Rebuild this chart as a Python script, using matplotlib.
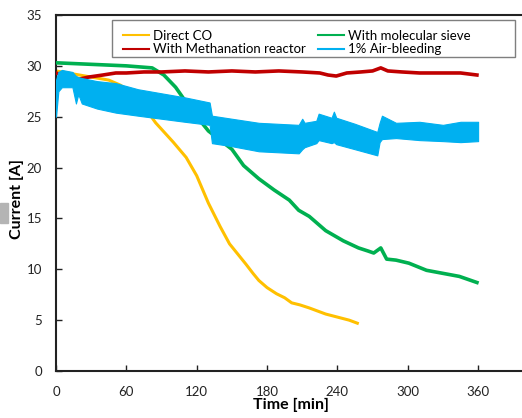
import numpy as np
import matplotlib.pyplot as plt
from matplotlib.lines import Line2D
from matplotlib.patches import Rectangle

plt.rcParams['font.family'] = ['Lato', 'DejaVu Sans']

# Direct CO
t_co = [0, 10, 20, 30, 45, 55, 65, 75, 85, 100, 111, 120, 130, 140, 148, 155, 162, 168, 173,
        180, 188, 195, 201, 208, 216, 223, 230, 240, 250, 257]
i_co = [29.5, 29.3, 29.1, 28.9, 28.6, 28.1, 27.3, 26.0, 24.4, 22.5, 21.0, 19.2, 16.5, 14.2, 12.5,
        11.5, 10.5, 9.6, 8.9, 8.2, 7.6, 7.2, 6.7, 6.5, 6.2, 5.9, 5.6, 5.3, 5.0, 4.7]

# With Methanation reactor
t_me = [0, 5, 12, 20, 28, 40, 51, 60, 75, 90, 110, 130, 150, 170, 190, 210, 225, 232, 239, 248,
        260, 270, 277, 283, 295, 310, 330, 345, 359]
i_me = [29.3, 29.1, 28.9, 28.7, 28.9, 29.1, 29.3, 29.3, 29.4, 29.4, 29.5, 29.4, 29.5, 29.4, 29.5,
        29.4, 29.3, 29.1, 29.0, 29.3, 29.4, 29.5, 29.8, 29.5, 29.4, 29.3, 29.3, 29.3, 29.1]

# With molecular sieve
t_ms = [0, 20, 40, 60, 82, 92, 102, 116, 130, 140, 150, 160, 173, 186, 199, 207, 216, 230, 245,
        258, 266, 271, 277, 282, 290, 301, 316, 330, 344, 359]
i_ms = [30.3, 30.2, 30.1, 30.0, 29.8, 29.1, 27.9, 25.6, 23.6, 22.7, 21.8, 20.2, 18.9, 17.8, 16.8,
        15.8, 15.2, 13.8, 12.8, 12.1, 11.8, 11.6, 12.1, 11.0, 10.9, 10.6, 9.9, 9.6, 9.3, 8.7]

# 1% Air-bleeding (noisy band: upper / lower envelope)
t_ab = [0, 2, 5, 14, 17, 19, 22, 35, 51, 70, 90, 110, 131, 133, 150, 173, 190, 207, 210, 212,
        222, 224, 235, 237, 239, 255, 274, 276, 278, 290, 310, 330, 345, 360]
ab_hi = [28.6, 29.4, 29.6, 29.4, 29.0, 28.9, 28.8, 28.5, 28.3, 27.7, 27.3, 26.9, 26.4, 25.1, 24.8,
         24.4, 24.3, 24.2, 24.8, 24.4, 24.6, 25.3, 24.9, 25.5, 24.9, 24.3, 23.5, 24.4, 25.1, 24.4,
         24.5, 24.2, 24.5, 24.5]
ab_lo = [25.0, 27.5, 27.9, 27.9, 26.3, 27.2, 26.3, 25.8, 25.4, 25.1, 24.8, 24.5, 24.2, 22.4, 22.1,
         21.6, 21.5, 21.4, 21.8, 22.0, 22.4, 22.7, 22.4, 22.5, 22.3, 21.8, 21.2, 22.5, 22.8, 22.9,
         22.7, 22.6, 22.5, 22.6]

c_co = '#FFC000'
c_me = '#C00000'
c_ms = '#00B050'
c_ab = '#00B0F0'

W, H = 522, 418
fig = plt.figure(figsize=(W / 100, H / 100), dpi=100)
ax = fig.add_axes([56 / W, 1 - 371 / H, 469 / W, 356 / H])

ax.plot(t_co, i_co, color=c_co, lw=2.2, zorder=2)
ax.plot(t_ms, i_ms, color=c_ms, lw=2.6, zorder=3)
ax.plot(t_me, i_me, color=c_me, lw=2.6, zorder=3)
ax.fill_between(t_ab, ab_lo, ab_hi, color=c_ab, lw=0.8, edgecolor=c_ab, zorder=4)

ax.set_xlim(0, 400)
ax.set_ylim(0, 35)
ax.set_xticks([0, 60, 120, 180, 240, 300, 360])
ax.set_yticks([0, 5, 10, 15, 20, 25, 30, 35])
ax.tick_params(direction='in', length=4, width=1, labelsize=9.5, colors='#222222')
ax.tick_params(axis='x', pad=11)
ax.tick_params(axis='y', pad=10)
for s in ['left', 'bottom', 'top']:
    ax.spines[s].set_linewidth(1.5)
    ax.spines[s].set_color('#222222')
ax.spines['right'].set_visible(False)

ax.set_xlabel('Time [min]', fontsize=11.5, fontweight='bold')
ax.xaxis.set_label_coords((291 - 56) / 469, (371 - 398) / 356)
ax.set_ylabel('Current [A]', fontsize=11.5, fontweight='bold')
ax.yaxis.set_label_coords((24 - 56) / 469, (371 - 199) / 356)

handles = [Line2D([], [], color=c_co, lw=1.5, label='Direct CO'),
           Line2D([], [], color=c_me, lw=1.5, label='With Methanation reactor'),
           Line2D([], [], color=c_ms, lw=1.5, label='With molecular sieve'),
           Line2D([], [], color=c_ab, lw=1.5, label='1% Air-bleeding')]
leg = ax.legend(handles=handles, ncol=2, loc='upper left',
                bbox_to_anchor=((112 - 56) / 469, (371 - 19) / 356),
                fontsize=9.5, frameon=False, handlelength=2.0, handletextpad=0.3,
                columnspacing=0.9, borderpad=0.3, labelspacing=0.12)

# legend box (wider than its entries, as in the source)
ax.add_patch(Rectangle(((112 - 56) / 469, (371 - 57) / 356), (515 - 112) / 469, 37 / 356,
                       transform=ax.transAxes, fill=False, edgecolor='#7f7f7f', lw=1.0,
                       zorder=6, clip_on=False))

fig.patches.append(Rectangle((0, 1 - 223 / H), 8 / W, 20 / H, transform=fig.transFigure,
                             color='#b4b4b4', zorder=0))

fig.savefig('out.png', dpi=100)
